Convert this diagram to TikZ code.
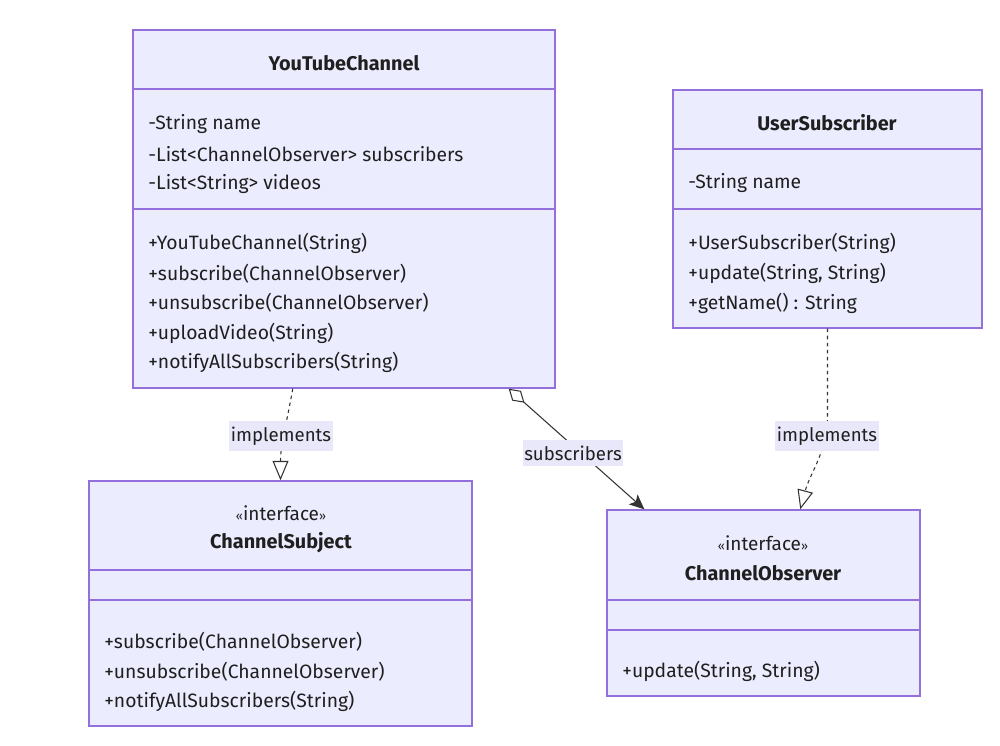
\documentclass[tikz,border=0pt]{standalone}
\usepackage{fontspec}
\setmainfont{Fira Sans}
\usetikzlibrary{fit}
\usetikzlibrary{calc}
\usetikzlibrary{arrows.meta}
\definecolor{uml-fill}{HTML}{ECECFF}
\definecolor{uml-line}{HTML}{9370DB}
\definecolor{uml-edge}{HTML}{333333}
\definecolor{uml-label}{HTML}{E8E8FA}
\colorlet{uml-text}{black!88}
\tikzset{
  classbox/.style={draw=uml-line,fill=uml-fill,line width=0.8pt,inner sep=0pt},
  classrule/.style={draw=uml-line,line width=0.8pt},
  member/.style={anchor=west,inner sep=0pt,text=uml-text,font=\fontsize{11}{13}\selectfont},
  classname/.style={inner sep=0pt,text=uml-text,font=\fontsize{11.3}{13}\selectfont\bfseries},
  stereo/.style={inner sep=0pt,text=uml-text,font=\fontsize{10.8}{13}\selectfont},
  edgelabel/.style={fill=uml-label,inner xsep=1pt,inner ysep=3pt,text=uml-text,font=\fontsize{10.6}{13}\selectfont},
  realize/.style={draw=uml-edge,line width=0.6pt,dash pattern=on 2pt off 2pt,-{Triangle[open,length=11pt,width=9pt]}},
  aggregate/.style={draw=uml-edge,line width=0.6pt,{Diamond[open,length=12pt,width=7.5pt]}-{Stealth[length=8.5pt,width=7.5pt,inset=2pt]}},
}
% list of members, one per line
\newcommand{\umlmembers}[4]{%
\foreach \txt [count=\i] in {#4} {
  \node[member] (#1\i) at (#2, {#3+1.5+29.8*(\i-1)}) {\txt};
}
}
\newcommand{\umlstereo}[1]{{\fontsize{7}{8}\selectfont«}#1{\fontsize{7}{8}\selectfont»}}

\begin{document}
\begin{tikzpicture}[x=0.02cm,y=-0.02cm]
\useasboundingbox (0,0) rectangle (1000,745);
% YouTubeChannel
\node[classbox,fit={(133,30) (555,388)}] (ytc) {};
\draw[classrule] (133,89) -- (555,89);
\draw[classrule] (133,209) -- (555,209);
\node[classname] (ytc-name) at (344,63) {YouTubeChannel};
\umlmembers{ytc-a}{148}{123}{-String name, -List<ChannelObserver> subscribers, -List<String> videos}
\umlmembers{ytc-m}{148}{242}{+YouTubeChannel(String), +subscribe(ChannelObserver), +unsubscribe(ChannelObserver), +uploadVideo(String), +notifyAllSubscribers(String)}
% UserSubscriber
\node[classbox,fit={(673,90) (982,328)}] (us) {};
\draw[classrule] (673,149) -- (982,149);
\draw[classrule] (673,209) -- (982,209);
\node[classname] (us-name) at (827,123) {UserSubscriber};
\umlmembers{us-a}{688}{182}{-String name}
\umlmembers{us-m}{688}{242}{+UserSubscriber(String), {+update(String, String)}, +getName() : String}
% ChannelSubject
\node[classbox,fit={(89,481) (472,726)}] (cs) {};
\draw[classrule] (89,570) -- (472,570);
\draw[classrule] (89,600) -- (472,600);
\node[stereo] (cs-stereo) at (281,513) {\umlstereo{interface}};
\node[classname] (cs-name) at (281,543) {ChannelSubject};
\umlmembers{cs-m}{104}{640}{+subscribe(ChannelObserver), +unsubscribe(ChannelObserver), +notifyAllSubscribers(String)}
% ChannelObserver
\node[classbox,fit={(607,510) (920,696)}] (co) {};
\draw[classrule] (607,600) -- (920,600);
\draw[classrule] (607,630) -- (920,630);
\node[stereo] (co-stereo) at (763,543) {\umlstereo{interface}};
\node[classname] (co-name) at (763,573) {ChannelObserver};
\umlmembers{co-m}{622}{670}{{+update(String, String)}}
% relations
\coordinate (ytc-impl) at ($(ytc.south west)!0.379!(ytc.south east)$);
\coordinate (ytc-agg) at ($(ytc.south west)!0.889!(ytc.south east)$);
\coordinate (co-agg) at ($(co.north west)!0.121!(co.north east)$);
\coordinate (co-impl) at ($(co.north west)!0.617!(co.north east)$);
\draw[realize] (ytc-impl) to[out=-100,in=90] (cs.north);
\draw[aggregate] (ytc-agg) -- (co-agg);
\draw[realize] (us.south) -- ++(0,85) to[out=-90,in=75] (co-impl);
\node[edgelabel] (lbl-cs) at (281,436) {implements};
\node[edgelabel] (lbl-agg) at (573,453) {subscribers};
\node[edgelabel] (lbl-co) at (827,436) {implements};
\end{tikzpicture}
\end{document}
